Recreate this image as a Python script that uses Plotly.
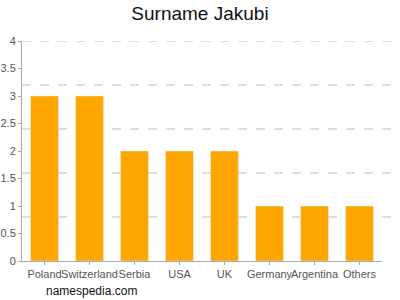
import plotly.graph_objects as go

categories = ["Poland", "Switzerland", "Serbia", "USA", "UK", "Germany", "Argentina", "Others"]
values = [3, 3, 2, 2, 2, 1, 1, 1]
y_ticks = [0, 0.5, 1, 1.5, 2, 2.5, 3, 3.5, 4]
y_tick_labels = ["0", "0.5", "1", "1.5", "2", "2.5", "3", "3.5", "4"]
grid_values = [0.8, 1.6, 2.4, 3.2, 4.0]

fig = go.Figure()
fig.add_trace(go.Bar(x=categories, y=values, marker_color="#FFA500", width=0.62))

for g in grid_values:
    fig.add_shape(type="line", xref="paper", yref="y", x0=0, x1=1.025, y0=g, y1=g,
                  line=dict(color="#bbbbbb", width=1, dash="dash"), layer="below")

fig.update_layout(
    width=400, height=300,
    margin=dict(l=22, r=18, t=41, b=39),
    paper_bgcolor="white", plot_bgcolor="white",
    title=dict(text="Surname Jakubi", x=0.5, xanchor="center", y=0.957, yanchor="middle",
               font=dict(family="Liberation Sans, Arial", size=19, color="#111111")),
    showlegend=False,
    bargap=0.38,
    xaxis=dict(showline=True, linecolor="#aaaaaa", linewidth=1, ticks="outside", ticklen=3,
               tickcolor="#aaaaaa", showgrid=False, tickangle=0, automargin=False,
               tickfont=dict(family="Liberation Sans, Arial", size=11, color="#555555")),
    yaxis=dict(range=[0, 4], tickvals=y_ticks, ticktext=y_tick_labels, showline=True,
               linecolor="#aaaaaa", linewidth=1, ticks="outside", ticklen=3, tickcolor="#aaaaaa",
               showgrid=False, zeroline=False, automargin=False,
               tickfont=dict(family="Liberation Sans, Arial", size=11, color="#555555")),
    annotations=[dict(text="namespedia.com", xref="paper", yref="paper", x=0, y=-0.136,
                      xanchor="left", yanchor="middle", showarrow=False,
                      font=dict(family="Liberation Sans, Arial", size=12, color="#111111"),
                      xshift=22)],
)

fig.write_html("out.html")
